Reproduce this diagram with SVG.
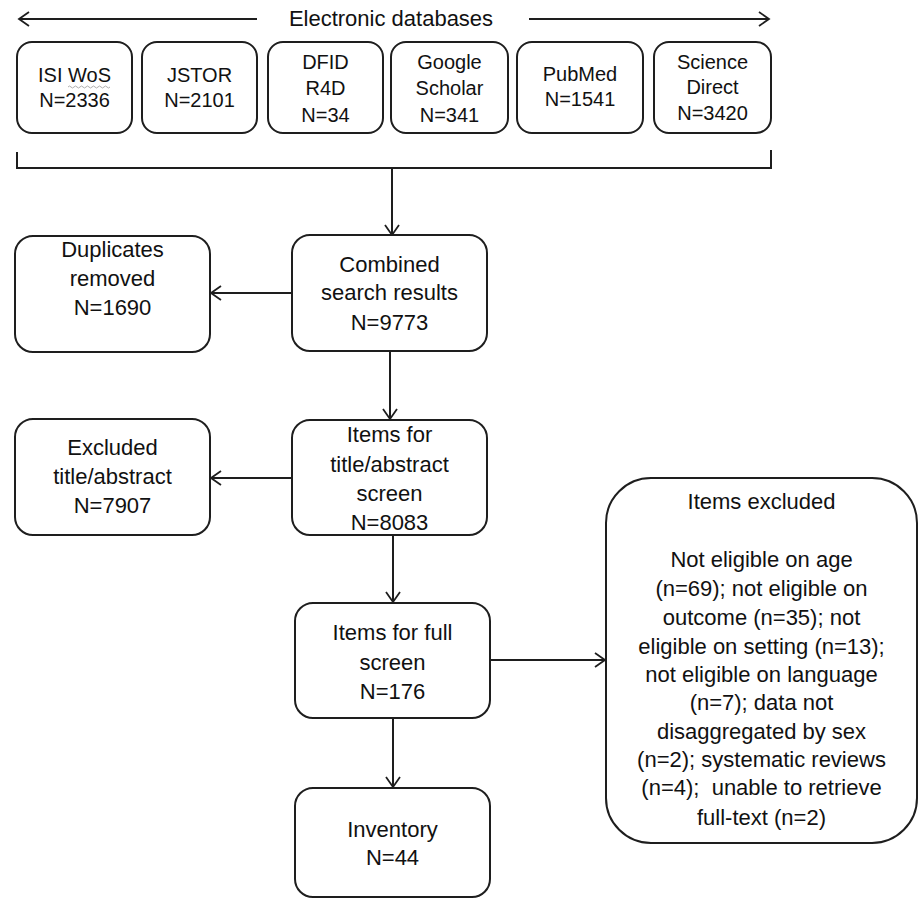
<svg xmlns="http://www.w3.org/2000/svg" width="920" height="899" viewBox="0 0 920 899">
<defs>
<marker id="arr" markerUnits="userSpaceOnUse" markerWidth="14" markerHeight="18" refX="11" refY="8" orient="auto">
<path d="M1,1 L11,8 L1,15" fill="none" stroke="#1e1e1e" stroke-width="1.8"/>
</marker>
<style>
.box{fill:#fff;stroke:#1e1e1e;stroke-width:2}
.ln{fill:none;stroke:#1e1e1e;stroke-width:2}
text{font-family:"Liberation Sans",Arial,sans-serif;fill:#111;text-anchor:middle}
.t20{font-size:20px}
.t22{font-size:22px}
.pre{white-space:pre}
</style>
</defs>
<rect width="920" height="899" fill="#fff"/>

<g id="header">
<text class="t22" x="391" y="26">Electronic databases</text>
</g>

<g id="connectors">
<path class="ln" d="M257,19 H19" marker-end="url(#arr)"/>
<path class="ln" d="M529,19 H769" marker-end="url(#arr)"/>
<path class="ln" d="M17,152 V168 H771 V150"/>
<path class="ln" d="M392,168 V235" marker-end="url(#arr)"/>
<path class="ln" d="M292,293 H211" marker-end="url(#arr)"/>
<path class="ln" d="M390,351 V419" marker-end="url(#arr)"/>
<path class="ln" d="M292,478 H211" marker-end="url(#arr)"/>
<path class="ln" d="M393,535 V602" marker-end="url(#arr)"/>
<path class="ln" d="M490,660 H605" marker-end="url(#arr)"/>
<path class="ln" d="M393,718 V787" marker-end="url(#arr)"/>
</g>

<g id="isi">
<rect class="box" x="17" y="42" width="115" height="91" rx="15"/>
<text class="t20" x="74.5" y="82">ISI WoS</text>
<path d="M68,87 q1.5,-2 3,0 t3,0 t3,0 t3,0 t3,0 t3,0 t3,0 t3,0 t3,0 t3,0 t3,0 t3,0 t3,0 t3,0" fill="none" stroke="#999" stroke-width="0.8"/>
<text class="t20" x="74.5" y="107">N=2336</text>
</g>
<g id="jstor">
<rect class="box" x="142" y="42" width="115" height="91" rx="15"/>
<text class="t20" x="199.5" y="82">JSTOR</text>
<text class="t20" x="199.5" y="107">N=2101</text>
</g>
<g id="dfid">
<rect class="box" x="268" y="42" width="115" height="91" rx="15"/>
<text class="t20" x="325.5" y="69">DFID</text>
<text class="t20" x="325.5" y="95">R4D</text>
<text class="t20" x="325.5" y="122">N=34</text>
</g>
<g id="google">
<rect class="box" x="391" y="42" width="117" height="91" rx="15"/>
<text class="t20" x="449.5" y="69">Google</text>
<text class="t20" x="449.5" y="95">Scholar</text>
<text class="t20" x="449.5" y="122">N=341</text>
</g>
<g id="pubmed">
<rect class="box" x="517" y="42" width="126" height="91" rx="15"/>
<text class="t20" x="580" y="81">PubMed</text>
<text class="t20" x="580" y="106">N=1541</text>
</g>
<g id="science">
<rect class="box" x="654" y="42" width="117" height="91" rx="15"/>
<text class="t20" x="712.5" y="69">Science</text>
<text class="t20" x="712.5" y="94">Direct</text>
<text class="t20" x="712.5" y="120">N=3420</text>
</g>

<g id="duplicates">
<rect class="box" x="15" y="236" width="195" height="116" rx="18"/>
<text class="t22" x="112.5" y="257">Duplicates</text>
<text class="t22" x="112.5" y="286">removed</text>
<text class="t22" x="112.5" y="315">N=1690</text>
</g>
<g id="combined">
<rect class="box" x="292" y="235" width="195" height="116" rx="18"/>
<text class="t22" x="389.5" y="272">Combined</text>
<text class="t22" x="389.5" y="300">search results</text>
<text class="t22" x="389.5" y="330">N=9773</text>
</g>
<g id="excluded">
<rect class="box" x="15" y="419" width="195" height="116" rx="18"/>
<text class="t22" x="112.5" y="455">Excluded</text>
<text class="t22" x="112.5" y="484">title/abstract</text>
<text class="t22" x="112.5" y="513">N=7907</text>
</g>
<g id="titleabstract">
<rect class="box" x="292" y="420" width="195" height="115" rx="18"/>
<text class="t22" x="389.5" y="442">Items for</text>
<text class="t22" x="389.5" y="472">title/abstract</text>
<text class="t22" x="389.5" y="501">screen</text>
<text class="t22" x="389.5" y="530">N=8083</text>
</g>
<g id="fullscreen">
<rect class="box" x="295" y="603" width="195" height="115" rx="18"/>
<text class="t22" x="392.5" y="640">Items for full</text>
<text class="t22" x="392.5" y="670">screen</text>
<text class="t22" x="392.5" y="699">N=176</text>
</g>
<g id="inventory">
<rect class="box" x="295" y="788" width="195" height="109" rx="18"/>
<text class="t22" x="392.5" y="837">Inventory</text>
<text class="t22" x="392.5" y="865">N=44</text>
</g>
<g id="itemsexcluded">
<rect class="box" x="606" y="478" width="311" height="365" rx="45"/>
<text class="t22" x="761.5" y="509">Items excluded</text>
<text class="t22" x="761.5" y="567">Not eligible on age</text>
<text class="t22" x="761.5" y="596">(n=69); not eligible on</text>
<text class="t22" x="761.5" y="625">outcome (n=35); not</text>
<text class="t22" x="761.5" y="654">eligible on setting (n=13);</text>
<text class="t22" x="761.5" y="682">not eligible on language</text>
<text class="t22" x="761.5" y="710">(n=7); data not</text>
<text class="t22" x="761.5" y="739">disaggregated by sex</text>
<text class="t22" x="761.5" y="767">(n=2); systematic reviews</text>
<text class="t22 pre" x="761.5" y="795">(n=4);  unable to retrieve</text>
<text class="t22" x="761.5" y="825">full-text (n=2)</text>
</g>
</svg>
